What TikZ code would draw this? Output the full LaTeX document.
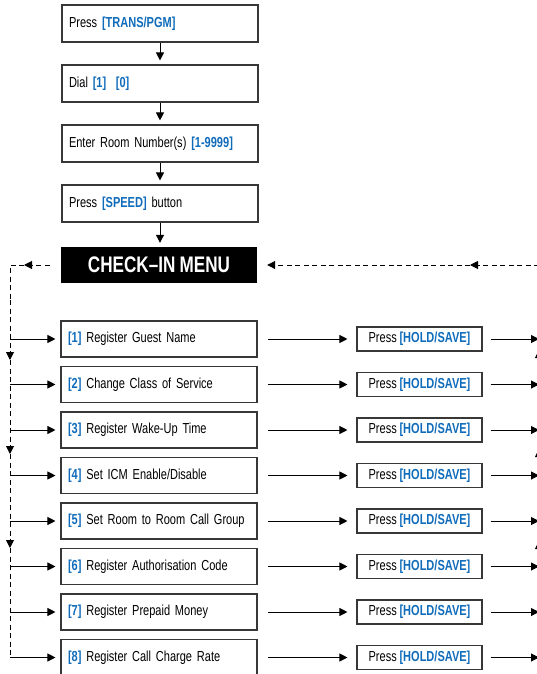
\documentclass[tikz,border=0pt]{standalone}
\usepackage{fontspec}
\setmainfont[FakeStretch=0.76,WordSpace=0.9]{Liberation Sans}
\newfontfamily\titlefont[FakeStretch=0.76,WordSpace=0.9]{Liberation Sans}
\usetikzlibrary{arrows.meta}
\definecolor{keyblue}{RGB}{16,108,186}
\definecolor{boxline}{RGB}{55,55,55}
\newcommand{\keytxt}[1]{\textcolor{keyblue}{\bfseries #1}}
\begin{document}
\begin{tikzpicture}[x=1pt,y=-1pt,
  tip/.tip={Triangle[length=8pt,width=8pt]},
  flowbox/.style={draw=boxline,line width=1.1pt,text width=182pt,inner xsep=7pt,inner ysep=0pt,minimum height=37pt,align=left,font=\fontsize{14.5}{16}\selectfont},
  itembox/.style={flowbox,minimum height=36pt},
  pressbox/.style={draw=boxline,line width=1.1pt,minimum width=125pt,minimum height=24pt,inner sep=0pt,font=\fontsize{14.5}{16}\selectfont},
  titlebox/.style={fill=black,text=white,minimum width=196pt,minimum height=36pt,inner sep=0pt,font=\titlefont\bfseries\fontsize{22.5}{24}\selectfont},
  arr/.style={line width=1pt,-tip},
  dline/.style={line width=1pt,dash pattern=on 5pt off 3.5pt},
  dtip/.style={dline,-tip}]
\useasboundingbox (0,0) rectangle (536,674);

\node[flowbox] (s1) at (160,23.5) {Press \keytxt{[TRANS/PGM]}};
\node[flowbox] (s2) at (160,83.5) {Dial \keytxt{[1]}\ \ \keytxt{[0]}};
\node[flowbox] (s3) at (160,143.5) {Enter Room Number(s) \keytxt{[1-9999]}};
\node[flowbox] (s4) at (160,203.5) {Press \keytxt{[SPEED]} button};
\node[titlebox] (t) at (159,265) {CHECK–IN MENU};

\draw[arr,shorten >=4pt] (s1) -- (s2);
\draw[arr,shorten >=4pt] (s2) -- (s3);
\draw[arr,shorten >=4pt] (s3) -- (s4);
\draw[arr,shorten >=4pt] (s4.south) -- (t.north -| s4.south);

\foreach \i/\y/\txt in {1/339/{Register Guest Name},2/384.5/{Change Class of Service},3/430/{Register Wake-Up Time},4/475.5/{Set ICM Enable/Disable},5/521/{Set Room to Room Call Group},6/566.5/{Register Authorisation Code},7/612/{Register Prepaid Money},8/657.5/{Register Call Charge Rate}}{
  \node[itembox] (i\i) at (159,\y) {\keytxt{[\i]} \txt};
  \node[pressbox] (p\i) at (419.5,\y) {Press \keytxt{[HOLD/SAVE]}};
}

% left dashed distribution line
\coordinate (L0) at (10,265);
\coordinate (la) at (24,265);
\coordinate (ld1) at (10,360);
\coordinate (ld2) at (10,454);
\coordinate (ld3) at (10,548);
\coordinate (lb) at (10,657.5);
\draw[dtip] ([xshift=-11pt]t.west) -- (la);
\draw[dline] (la) -- (L0) -- (10,300);
\draw[dtip] (10,300) -- (ld1);
\draw[dtip] (ld1) -- (ld2);
\draw[dtip] (ld2) -- (ld3);
\draw[dline] (ld3) -- (lb);

% right dashed return line
\coordinate (R0) at (539,265);
\coordinate (ra) at (470,265);
\coordinate (ru1) at (539,350);
\coordinate (ru2) at (539,449);
\coordinate (ru3) at (539,541);
\coordinate (rb) at (539,680);
\draw[dtip] (rb) -- (ru3);
\draw[dtip] (ru3) -- (ru2);
\draw[dtip] (ru2) -- (ru1);
\draw[dline] (ru1) -- (R0);
\draw[dtip] (R0) -- (ra);
\draw[dtip] (ra) -- ([xshift=10pt]t.east);

\foreach \i in {1,...,8}{
  \draw[arr] (L0 |- i\i.west) -- ([xshift=-5pt]i\i.west);
  \draw[arr] ([xshift=10pt]i\i.east) -- ([xshift=-9pt]p\i.west);
  \draw[arr] ([xshift=8pt]p\i.east) -- (R0 |- p\i.east);
}
\end{tikzpicture}
\end{document}
